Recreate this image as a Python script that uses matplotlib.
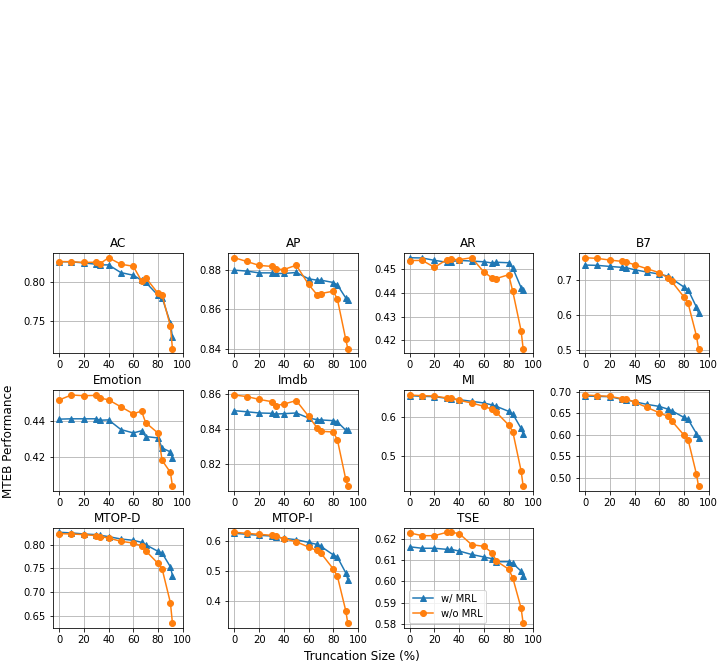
import matplotlib
matplotlib.use("Agg")
import matplotlib.pyplot as plt

# truncation sizes (%)
trunc = [0, 10, 20, 30, 33.3, 40, 50, 60, 66.7, 70, 80, 83.3, 90, 91.7]

tasks = ["AC", "AP", "AR", "B7", "Emotion", "Imdb", "MI", "MS",
         "MTOP-D", "MTOP-I", "TSE"]

# w/ MRL
mrl = {
    "AC": [0.825, 0.8248, 0.8235, 0.8218, 0.821, 0.821, 0.8113, 0.808, 0.8017, 0.7992, 0.7828, 0.780, 0.7479, 0.730],
    "AP": [0.880, 0.8795, 0.8786, 0.8786, 0.8783, 0.8783, 0.8788, 0.8756, 0.8749, 0.8749, 0.8737, 0.8724, 0.8659, 0.8647],
    "AR": [0.4546, 0.4545, 0.4535, 0.4527, 0.4529, 0.4535, 0.4532, 0.4529, 0.4524, 0.4527, 0.4525, 0.4503, 0.4421, 0.4409],
    "B7": [0.7429, 0.7419, 0.739, 0.7362, 0.7352, 0.7295, 0.7229, 0.7171, 0.7114, 0.7038, 0.680, 0.6724, 0.6229, 0.6057],
    "Emotion": [0.4413, 0.4415, 0.4415, 0.4415, 0.4407, 0.4409, 0.4355, 0.4336, 0.4348, 0.4316, 0.4308, 0.4252, 0.423, 0.4196],
    "Imdb": [0.8506, 0.850, 0.8493, 0.8491, 0.8487, 0.8489, 0.8493, 0.8464, 0.8455, 0.8453, 0.8449, 0.8441, 0.8395, 0.8395],
    "MI": [0.6529, 0.6513, 0.6504, 0.6462, 0.6454, 0.6429, 0.6387, 0.6345, 0.6294, 0.626, 0.6134, 0.6067, 0.5706, 0.5563],
    "MS": [0.6906, 0.6898, 0.6891, 0.6828, 0.682, 0.6773, 0.6711, 0.6664, 0.6602, 0.6563, 0.6406, 0.6359, 0.6031, 0.5922],
    "MTOP-D": [0.8262, 0.8248, 0.8226, 0.8212, 0.8198, 0.817, 0.812, 0.8092, 0.805, 0.800, 0.7859, 0.7823, 0.7533, 0.7349],
    "MTOP-I": [0.6247, 0.6213, 0.618, 0.6157, 0.6135, 0.6079, 0.6034, 0.5944, 0.5876, 0.5809, 0.5528, 0.5449, 0.4933, 0.4708],
    "TSE": [0.6162, 0.6155, 0.6155, 0.615, 0.615, 0.6142, 0.6126, 0.6114, 0.6106, 0.6092, 0.6092, 0.6084, 0.6048, 0.6023],
}

# w/o MRL
no_mrl = {
    "AC": [0.8252, 0.825, 0.824, 0.8244, 0.8227, 0.830, 0.8218, 0.8193, 0.8008, 0.805, 0.7853, 0.7832, 0.7441, 0.7155],
    "AP": [0.8863, 0.8844, 0.8824, 0.8819, 0.8805, 0.8803, 0.8825, 0.8727, 0.8676, 0.8681, 0.8693, 0.8651, 0.8449, 0.840],
    "AR": [0.4534, 0.4535, 0.4506, 0.4538, 0.4539, 0.4538, 0.4546, 0.4486, 0.4461, 0.4459, 0.4475, 0.4405, 0.4241, 0.4165],
    "B7": [0.7638, 0.7619, 0.7571, 0.7533, 0.7514, 0.7438, 0.7324, 0.721, 0.7067, 0.6962, 0.6514, 0.6333, 0.541, 0.5038],
    "Emotion": [0.452, 0.4548, 0.4544, 0.4546, 0.4531, 0.4521, 0.4482, 0.4443, 0.4458, 0.4394, 0.4335, 0.4183, 0.4116, 0.4039],
    "Imdb": [0.8596, 0.8587, 0.8571, 0.8558, 0.8535, 0.8544, 0.8564, 0.8474, 0.8409, 0.8388, 0.8384, 0.8338, 0.8114, 0.8074],
    "MI": [0.6546, 0.6529, 0.6521, 0.6471, 0.6462, 0.6412, 0.6345, 0.626, 0.6185, 0.6109, 0.579, 0.5622, 0.4639, 0.4252],
    "MS": [0.693, 0.6914, 0.6898, 0.6844, 0.6836, 0.6766, 0.664, 0.6516, 0.643, 0.6328, 0.5992, 0.5883, 0.5086, 0.4805],
    "MTOP-D": [0.8233, 0.8226, 0.8212, 0.8191, 0.817, 0.8141, 0.8071, 0.8035, 0.7972, 0.7873, 0.7604, 0.7491, 0.6777, 0.6338],
    "MTOP-I": [0.6281, 0.6247, 0.6213, 0.618, 0.6157, 0.6067, 0.5966, 0.5787, 0.5674, 0.5584, 0.5056, 0.4809, 0.3674, 0.3247],
    "TSE": [0.6227, 0.6214, 0.6214, 0.623, 0.623, 0.6224, 0.6172, 0.6164, 0.6133, 0.6095, 0.6057, 0.6016, 0.5875, 0.5803],
}

yticks = {
    "AC": [0.75, 0.80],
    "AP": [0.84, 0.86, 0.88],
    "AR": [0.42, 0.43, 0.44, 0.45],
    "B7": [0.5, 0.6, 0.7],
    "Emotion": [0.42, 0.44],
    "Imdb": [0.82, 0.84, 0.86],
    "MI": [0.5, 0.6],
    "MS": [0.50, 0.55, 0.60, 0.65, 0.70],
    "MTOP-D": [0.65, 0.70, 0.75, 0.80],
    "MTOP-I": [0.4, 0.5, 0.6],
    "TSE": [0.58, 0.59, 0.60, 0.61, 0.62],
}

fig, axes = plt.subplots(3, 4, figsize=(724 / 72, 668 / 72), dpi=72)
fig.subplots_adjust(left=0.073, right=0.979, bottom=0.06, top=0.621,
                    wspace=0.35, hspace=0.37)

for ax, name in zip(axes.flat, tasks):
    ax.plot(trunc, mrl[name], marker="^", label="w/ MRL")
    ax.plot(trunc, no_mrl[name], marker="o", label="w/o MRL")
    ax.set_title(name)
    ax.set_xlim(-5, 100)
    ax.set_xticks([0, 20, 40, 60, 80, 100])
    ax.set_yticks(yticks[name])
    ax.grid(True)

axes.flat[10].legend(loc="lower left")
axes.flat[11].axis("off")

fig.supylabel("MTEB Performance", x=0.003, y=0.34, fontsize=12)
fig.supxlabel("Truncation Size (%)", y=0.008, fontsize=12)

fig.savefig("out.png", dpi=72)
